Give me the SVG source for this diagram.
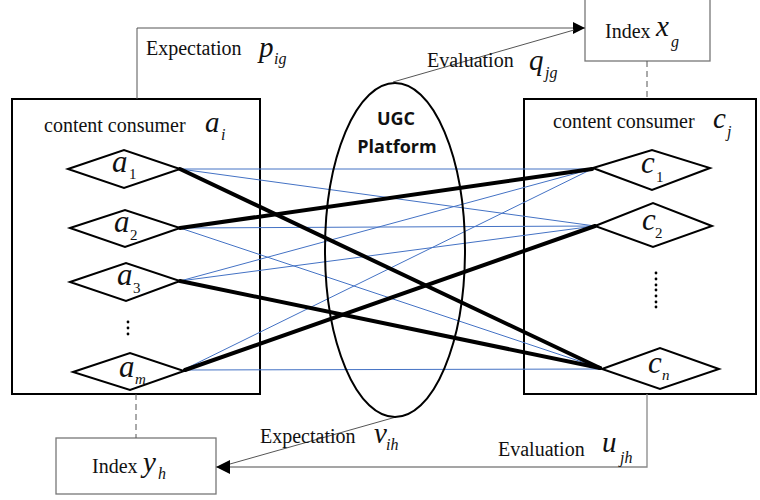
<svg xmlns="http://www.w3.org/2000/svg" width="760" height="500" viewBox="0 0 760 500">
  <defs>
    <marker id="arrow" viewBox="0 0 12 12" refX="12" refY="6" markerWidth="12" markerHeight="12" markerUnits="userSpaceOnUse" orient="auto">
      <path d="M0,0 L12,6 L0,12 Z" fill="#000"/>
    </marker>
    <marker id="arrowL" viewBox="0 0 14 14" refX="14" refY="7" markerWidth="14" markerHeight="14" markerUnits="userSpaceOnUse" orient="auto">
      <path d="M0,0 L14,7 L0,14 Z" fill="#000"/>
    </marker>
    <style>
      .lbl { font-size: 20px; }
      .var { font-style: italic; font-size: 29px; }
      .sub { font-style: italic; font-size: 16px; }
      .dvar { font-style: italic; font-size: 31px; }
      .dsub { font-size: 15px; }
      .box { fill: #fff; stroke: #000; stroke-width: 2; }
      .idx { fill: #fff; stroke: #777; stroke-width: 1.3; }
      .dia { fill: #fff; stroke: #000; stroke-width: 2; }
      .thin { stroke: #4472c4; stroke-width: 1; fill: none; }
      .thick { stroke: #000; stroke-width: 4; fill: none; stroke-linecap: round; }
      .flow { stroke: #555; stroke-width: 1; fill: none; }
      .flowg { stroke: #888; stroke-width: 1.3; fill: none; }
      .dash { stroke: #555; stroke-width: 1; stroke-dasharray: 6 4; fill: none; }
      .plat { font-family: "Open Sans", "Noto Sans", sans-serif; font-weight: bold; font-size: 18px; }
    </style>
  </defs>

  <g font-family="Liberation Serif, Noto Serif, DejaVu Serif, Tinos, FreeSerif, Times New Roman, serif" fill="#111">
  <!-- containers -->
  <g id="consumer-a">
    <rect class="box" x="12" y="99" width="248" height="295"/>
    <text class="lbl" x="44" y="132">content consumer</text>
    <text class="var" x="205" y="132">a</text>
    <text class="sub" x="221" y="140">i</text>
  </g>
  <g id="consumer-c">
    <rect class="box" x="524" y="99" width="232" height="295"/>
    <text class="lbl" x="553" y="128">content consumer</text>
    <text class="var" x="713" y="128">c</text>
    <text class="sub" x="727" y="137">j</text>
  </g>

  <!-- index boxes -->
  <g id="index-x">
    <rect class="idx" x="585" y="-1" width="125" height="62"/>
    <text class="lbl" x="605" y="38">Index</text>
    <text class="var" x="656" y="36">x</text>
    <text class="sub" x="671" y="47">g</text>
  </g>
  <g id="index-y">
    <rect class="idx" x="56" y="438" width="160" height="56"/>
    <text class="lbl" x="92" y="473">Index</text>
    <text class="var" x="143" y="472">y</text>
    <text class="sub" x="158" y="479">h</text>
  </g>

  <!-- connectors -->
  <g id="connectors">
    <!-- thin links -->
    <line class="thin" x1="180" y1="169" x2="592" y2="169"/>
    <line class="thin" x1="180" y1="169" x2="595" y2="226"/>
    <line class="thin" x1="180" y1="228" x2="595" y2="226"/>
    <line class="thin" x1="180" y1="228" x2="600" y2="368"/>
    <line class="thin" x1="180" y1="281" x2="592" y2="169"/>
    <line class="thin" x1="180" y1="281" x2="595" y2="226"/>
    <line class="thin" x1="183" y1="370" x2="592" y2="169"/>
    <line class="thin" x1="183" y1="370" x2="600" y2="369"/>
    <!-- strong links -->
    <line class="thick" x1="180" y1="169" x2="600" y2="368"/>
    <line class="thick" x1="180" y1="228" x2="592" y2="169"/>
    <line class="thick" x1="180" y1="281" x2="600" y2="368"/>
    <line class="thick" x1="185" y1="370" x2="595" y2="226"/>

    <!-- expectation / evaluation flows -->
    <polyline class="flow" points="137,99 137,28 585,28" marker-end="url(#arrow)"/>
    <line class="flow" x1="393" y1="82" x2="574" y2="30"/>
    <polyline class="flowg" points="647,394 647,467 216,467" marker-end="url(#arrowL)"/>
    <line class="flow" x1="396" y1="417" x2="230" y2="464"/>

    <!-- dashed links to indices -->
    <line class="dash" x1="647" y1="61" x2="647" y2="99"/>
    <line class="dash" x1="136" y1="394" x2="136" y2="438"/>
  </g>

  <!-- platform -->
  <g id="platform">
    <ellipse cx="395" cy="250" rx="70" ry="167" fill="none" stroke="#000" stroke-width="2"/>
    <text class="plat" x="396" y="125" text-anchor="middle">UGC</text>
    <text class="plat" x="397" y="153" text-anchor="middle">Platform</text>
  </g>

  <!-- flow labels -->
  <g id="label-p">
    <text class="lbl" x="146" y="55">Expectation</text>
    <text class="var" x="259" y="57">p</text>
    <text class="sub" x="274" y="64">ig</text>
  </g>
  <g id="label-q">
    <text class="lbl" x="427" y="67">Evaluation</text>
    <text class="var" x="529" y="70">q</text>
    <text class="sub" x="545" y="78">jg</text>
  </g>
  <g id="label-v">
    <text class="lbl" x="260" y="443">Expectation</text>
    <text class="var" x="374" y="443">v</text>
    <text class="sub" x="386" y="450">ih</text>
  </g>
  <g id="label-u">
    <text class="lbl" x="498" y="456">Evaluation</text>
    <text class="var" x="602" y="452">u</text>
    <text class="sub" x="620" y="463">jh</text>
  </g>

  <!-- left nodes -->
  <g id="node-a1">
    <polygon class="dia" points="68,169 124,150 180,169 124,188"/>
    <text class="dvar" x="112" y="172">a</text>
    <text class="dsub" x="129" y="179">1</text>
  </g>
  <g id="node-a2">
    <polygon class="dia" points="70,228 125,210 180,228 125,247"/>
    <text class="dvar" x="114" y="232">a</text>
    <text class="dsub" x="130" y="240">2</text>
  </g>
  <g id="node-a3">
    <polygon class="dia" points="70,282 126,263 180,281 126,301"/>
    <text class="dvar" x="117" y="285">a</text>
    <text class="dsub" x="133" y="293">3</text>
  </g>
  <g id="dots-a" fill="#000">
    <circle cx="128" cy="322" r="1.4"/>
    <circle cx="128" cy="328" r="1.4"/>
    <circle cx="128" cy="334" r="1.4"/>
  </g>
  <g id="node-am">
    <polygon class="dia" points="73,372 130,353 184,371 130,390"/>
    <text class="dvar" x="119" y="377">a</text>
    <text class="dsub" x="135" y="384" font-style="italic">m</text>
  </g>

  <!-- right nodes -->
  <g id="node-c1">
    <polygon class="dia" points="593,168 652,150 710,168 652,190"/>
    <text class="dvar" x="641" y="173">c</text>
    <text class="dsub" x="656" y="182">1</text>
  </g>
  <g id="node-c2">
    <polygon class="dia" points="595,226 653,203 712,226 653,247"/>
    <text class="dvar" x="642" y="230">c</text>
    <text class="dsub" x="655" y="238">2</text>
  </g>
  <g id="dots-c" fill="#000">
    <circle cx="656" cy="273" r="1.4"/>
    <circle cx="656" cy="279" r="1.4"/>
    <circle cx="656" cy="285" r="1.4"/>
    <circle cx="656" cy="290" r="1.4"/>
    <circle cx="656" cy="296" r="1.4"/>
    <circle cx="656" cy="302" r="1.4"/>
    <circle cx="656" cy="307" r="1.4"/>
  </g>
  <g id="node-cn">
    <polygon class="dia" points="602,369 660,348 719,369 660,389"/>
    <text class="dvar" x="648" y="373" font-size="27">c</text>
    <text class="dsub" x="662" y="380" font-style="italic">n</text>
  </g>
  </g>
</svg>
